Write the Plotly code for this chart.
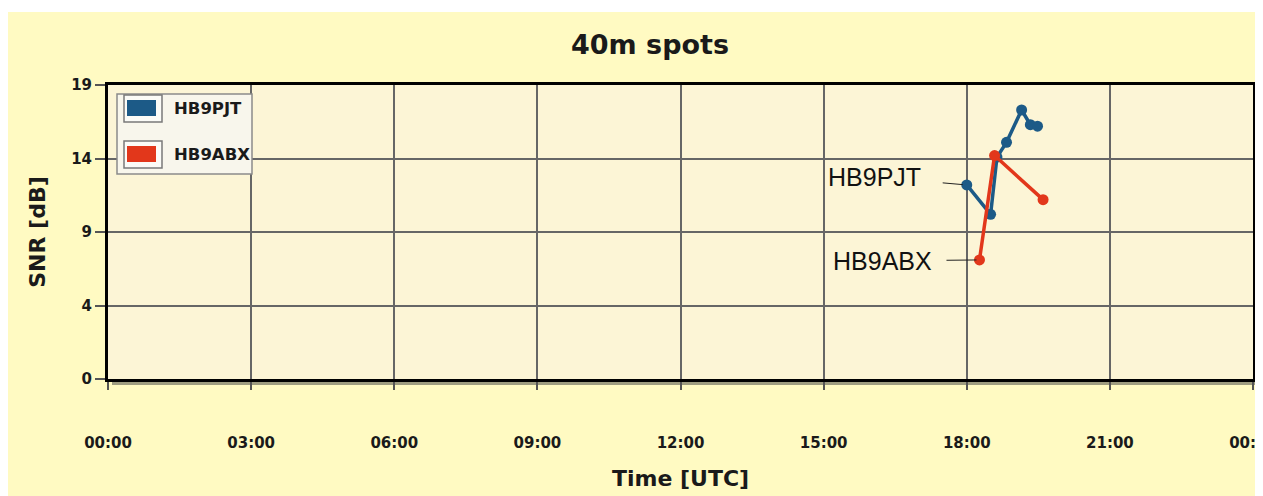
import plotly.graph_objects as go
from datetime import datetime, timedelta

# ---------------- data ----------------
DAY = "2014-03-15"
series_names = ["HB9PJT", "HB9ABX"]
pjt_times = ["18:00", "18:30", "18:38", "18:50", "19:09", "19:20", "19:29"]
pjt_snr = [12.2, 10.2, 14.1, 15.1, 17.3, 16.3, 16.2]
abx_times = ["18:16", "18:35", "19:36"]
abx_snr = [7.1, 14.2, 11.2]
y_tick_vals = [-1, 4, 9, 14, 19]
y_tick_text = ["0", "4", "9", "14", "19"]
x_tick_labels = ["00:00", "03:00", "06:00", "09:00", "12:00", "15:00", "18:00", "21:00", "00:00"]
colors = ["#1C5A87", "#E2371B"]

# ---------------- geometry (page pixels; page has an 8px body margin) ----------------
OFF = 8
W, H = 1263, 496
L, R, T, B = 108, 10, 85, 117
PW, PH = W - L - R, H - T - B


def px(x):
    return (x - L) / PW


def py(y):
    return (H - B - y) / PH


def stamp(hhmm):
    return f"{DAY} {hhmm}"


start = datetime.fromisoformat(DAY)
x_tick_vals = [(start + timedelta(hours=3 * i)).strftime("%Y-%m-%d %H:%M") for i in range(len(x_tick_labels))]

fig = go.Figure()
series = [(pjt_times, pjt_snr), (abx_times, abx_snr)]
for name, (tt, vv), col in zip(series_names, series, colors):
    fig.add_trace(go.Scatter(
        x=[stamp(t) for t in tt], y=vv, name=name, mode="lines+markers",
        line=dict(color=col, width=3.5), marker=dict(color=col, size=11),
        showlegend=False, cliponaxis=False,
    ))

bold = dict(family="DejaVu Sans", weight="bold", color="#1a1a1a")

shapes = [
    # yellow panel
    dict(type="rect", xref="paper", yref="paper", layer="below",
         x0=px(8), x1=px(1257), y0=py(H + 10), y1=py(12),
         fillcolor="#FFFAC2", line=dict(width=0)),
    # frame shadow
    dict(type="rect", xref="paper", yref="paper", layer="below",
         x0=px(L + 4), x1=px(W - R + 5), y0=py(H - B + 6), y1=py(T + 4),
         fillcolor="#9E9C80", line=dict(width=0)),
    # plot area background
    dict(type="rect", xref="paper", yref="paper", layer="below",
         x0=0, x1=1, y0=0, y1=1,
         fillcolor="#FCF5D6", line=dict(width=0)),
    # legend box
    dict(type="rect", xref="paper", yref="paper", layer="above",
         x0=px(117), x1=px(252), y0=py(174), y1=py(94),
         fillcolor="#F8F6EC", line=dict(color="#8a8a8a", width=1.5)),
]
annotations = []
for i, (name, col) in enumerate(zip(series_names, colors)):
    dy = 46 * i
    shapes.append(dict(type="rect", xref="paper", yref="paper", layer="above",
                       x0=px(124), x1=px(162), y0=py(122 + dy), y1=py(95 + dy),
                       fillcolor="#FBFBF7", line=dict(color="#7a7a7a", width=1.5)))
    shapes.append(dict(type="rect", xref="paper", yref="paper", layer="above",
                       x0=px(127), x1=px(156), y0=py(116 + dy), y1=py(100 + dy),
                       fillcolor=col, line=dict(width=0)))
    annotations.append(dict(xref="paper", yref="paper", x=px(172), y=py(108 + dy),
                            xanchor="left", yanchor="middle", showarrow=False,
                            text=name, font=dict(bold, size=16.5)))

# callout labels for the traces
annotations.append(dict(x=stamp(pjt_times[0]), y=pjt_snr[0], text=series_names[0],
                        showarrow=True, arrowhead=0, arrowwidth=1, arrowcolor="#222",
                        ax=-92, ay=-8, startstandoff=20, standoff=4,
                        font=dict(family="Liberation Sans", size=25, color="#111")))
annotations.append(dict(x=stamp(abx_times[0]), y=abx_snr[0], text=series_names[1],
                        showarrow=True, arrowhead=0, arrowwidth=1, arrowcolor="#222",
                        ax=-97, ay=1, startstandoff=13, standoff=3,
                        font=dict(family="Liberation Sans", size=25, color="#111")))

fig.update_layout(
    width=W - OFF, height=H - OFF,
    margin=dict(l=L - OFF, r=R, t=T - OFF, b=B, autoexpand=False),
    paper_bgcolor="white", plot_bgcolor="rgba(0,0,0,0)",
    title=dict(text="40m spots", x=(650 - OFF) / (W - OFF), y=1 - (45 - OFF) / (H - OFF),
               xanchor="center", yanchor="middle", font=dict(bold, size=27)),
    shapes=shapes, annotations=annotations, showlegend=False,
)
fig.update_xaxes(
    type="date", range=[x_tick_vals[0], x_tick_vals[-1]],
    tickvals=x_tick_vals, ticktext=x_tick_labels, ticklabeloverflow="allow",
    showgrid=True, gridcolor="#666666", gridwidth=1.5,
    showline=True, mirror=True, linecolor="black", linewidth=3,
    ticks="outside", ticklen=8, tickwidth=1.5, tickcolor="#555",
    ticklabelstandoff=40, tickfont=dict(bold, size=15),
    title=dict(text="Time [UTC]", font=dict(bold, size=22), standoff=20),
)
fig.update_yaxes(
    range=[-1, 19], tickvals=y_tick_vals, ticktext=y_tick_text,
    showgrid=True, gridcolor="#666666", gridwidth=1.5, zeroline=False,
    showline=True, mirror=True, linecolor="black", linewidth=3,
    ticks="outside", ticklen=10, tickwidth=1.5, tickcolor="#555",
    tickfont=dict(bold, size=15),
    title=dict(text="SNR [dB]", font=dict(bold, size=22), standoff=20),
)

fig.write_html("out.html")
